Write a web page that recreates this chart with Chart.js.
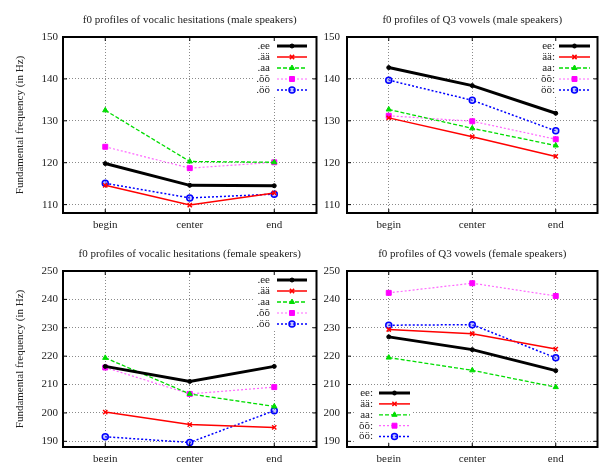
<!DOCTYPE html>
<html lang="et">
<head>
    <meta charset="UTF-8">
    <title>f0 profiles</title>
    <script src="https://cdn.jsdelivr.net/npm/chart.js"></script>
    <style>
        body {
            margin: 0;
            background: #fff;
        }
        .panel {
            position: absolute;
        }
    </style>
</head>
<body>
<div class="panel" style="left:0;top:0;width:322px;height:231px"><canvas id="maleHes"></canvas></div>
<div class="panel" style="left:322px;top:0;width:281px;height:231px"><canvas id="maleQ3"></canvas></div>
<div class="panel" style="left:0;top:231px;width:322px;height:231px"><canvas id="femaleHes"></canvas></div>
<div class="panel" style="left:322px;top:231px;width:281px;height:231px"><canvas id="femaleQ3"></canvas></div>

<script>
    // categories and labels
    const positions = ['begin', 'center', 'end'];
    const hesLabels = ['.ee', '.ää', '.aa', '.õõ', '.öö'];
    const q3Labels = ['ee:', 'ää:', 'aa:', 'õõ:', 'öö:'];
    const maleTicks = [110, 120, 130, 140, 150];
    const femaleTicks = [190, 200, 210, 220, 230, 240, 250];

    // male speakers, vocalic hesitations
    const maleHesEe = [119.8, 114.6, 114.5];
    const maleHesAe = [114.6, 109.9, 112.8];
    const maleHesAa = [132.5, 120.3, 120.1];
    const maleHesOt = [123.8, 118.7, 120.1];
    const maleHesOe = [115.1, 111.6, 112.5];

    // male speakers, Q3 vowels
    const maleQ3Ee = [142.7, 138.4, 131.8];
    const maleQ3Ae = [130.7, 126.2, 121.5];
    const maleQ3Aa = [132.7, 128.2, 124.1];
    const maleQ3Ot = [131.2, 129.9, 125.6];
    const maleQ3Oe = [139.7, 134.9, 127.6];

    // female speakers, vocalic hesitations
    const femaleHesEe = [216.4, 211.1, 216.4];
    const femaleHesAe = [200.3, 195.9, 194.9];
    const femaleHesAa = [219.4, 206.7, 202.3];
    const femaleHesOt = [216.0, 206.7, 209.1];
    const femaleHesOe = [191.6, 189.6, 200.8];

    // female speakers, Q3 vowels
    const femaleQ3Ee = [226.8, 222.3, 214.9];
    const femaleQ3Ae = [229.4, 227.9, 222.5];
    const femaleQ3Aa = [219.5, 215.0, 209.1];
    const femaleQ3Ot = [242.3, 245.7, 241.2];
    const femaleQ3Oe = [230.9, 231.1, 219.4];

    const FONT = 'Liberation Serif, Times New Roman, serif';
    const TEXT = '#222';

    // gnuplot-like line styles, one per vowel
    const styles = [
        { line: '#000000', fill: '#000000', width: 3, dash: [], point: 'circle', radius: 2, pw: 1 },
        { line: '#ff0000', fill: '#ff0000', width: 1.5, dash: [], point: 'crossRot', radius: 3, pw: 1.5 },
        { line: '#00dd00', fill: '#00dd00', width: 1.3, dash: [4, 2], point: 'triangle', radius: 3, pw: 1 },
        { line: '#ff66ff', fill: '#ff00ff', width: 1.2, dash: [2, 2], point: 'rect', radius: 3.5, pw: 1 },
        { line: '#0000ff', fill: 'rgba(90,90,255,0.35)', width: 1.5, dash: [2, 2], point: 'circle', radius: 3, pw: 1.5, pointLine: '#0000ff' }
    ];

    function makeDatasets(labels, series) {
        return series.map((data, i) => {
            const s = styles[i];
            return {
                label: labels[i],
                data: data,
                borderColor: s.line,
                borderWidth: s.width,
                borderDash: s.dash,
                pointStyle: s.point,
                pointRadius: s.radius,
                pointBorderWidth: s.pw,
                pointBackgroundColor: s.fill,
                pointBorderColor: s.pointLine || s.fill,
                tension: 0,
                clip: false
            };
        });
    }

    // small marker for the key
    function drawMarker(ctx, s, x, y) {
        ctx.save();
        ctx.setLineDash([]);
        ctx.fillStyle = s.fill;
        ctx.strokeStyle = s.pointLine || s.fill;
        ctx.lineWidth = s.pw;
        if (Chart.helpers && Chart.helpers.drawPoint) {
            Chart.helpers.drawPoint(ctx, { pointStyle: s.point, radius: s.radius, rotation: 0, borderWidth: s.pw }, x, y);
        } else {
            ctx.beginPath();
            ctx.arc(x, y, s.radius, 0, Math.PI * 2);
            ctx.fill();
            ctx.stroke();
        }
        ctx.restore();
    }

    // gnuplot style key: text on the left, sample line on the right
    function keyPlugin(cfg) {
        return {
            id: 'gpKey',
            afterDatasetsDraw(chart) {
                const ctx = chart.ctx;
                const sets = chart.data.datasets;
                ctx.save();
                ctx.font = '11px ' + FONT;
                let maxW = 0;
                sets.forEach(d => { maxW = Math.max(maxW, ctx.measureText(d.label).width); });
                const lastY = cfg.top + cfg.step * (sets.length - 1);
                ctx.fillStyle = '#fff';
                ctx.fillRect(cfg.textRight - maxW - 3, cfg.top - 6, cfg.lineEnd - cfg.textRight + maxW + 6, lastY - cfg.top + 12);
                sets.forEach((d, i) => {
                    const s = styles[i];
                    const y = cfg.top + cfg.step * i;
                    ctx.fillStyle = TEXT;
                    ctx.textAlign = 'right';
                    ctx.textBaseline = 'middle';
                    ctx.fillText(d.label, cfg.textRight, y);
                    ctx.strokeStyle = s.line;
                    ctx.lineWidth = s.width;
                    ctx.setLineDash(s.dash);
                    ctx.beginPath();
                    ctx.moveTo(cfg.lineStart, y);
                    ctx.lineTo(cfg.lineEnd, y);
                    ctx.stroke();
                    drawMarker(ctx, s, (cfg.lineStart + cfg.lineEnd) / 2, y);
                });
                ctx.restore();
            }
        };
    }

    // black frame with inward tick marks on all four sides
    const framePlugin = {
        id: 'frame',
        afterDraw(chart) {
            const { ctx, chartArea: a, scales } = chart;
            ctx.save();
            ctx.strokeStyle = '#000';
            ctx.setLineDash([]);
            ctx.lineWidth = 1;
            ctx.beginPath();
            scales.y.ticks.forEach(t => {
                const y = scales.y.getPixelForValue(t.value);
                ctx.moveTo(a.left, y); ctx.lineTo(a.left + 4, y);
                ctx.moveTo(a.right, y); ctx.lineTo(a.right - 4, y);
            });
            scales.x.ticks.forEach((t, i) => {
                const x = scales.x.getPixelForTick(i);
                ctx.moveTo(x, a.bottom); ctx.lineTo(x, a.bottom - 4);
                ctx.moveTo(x, a.top); ctx.lineTo(x, a.top + 4);
            });
            ctx.stroke();
            ctx.lineWidth = 2;
            ctx.strokeRect(a.left, a.top, a.right - a.left, a.bottom - a.top);
            ctx.restore();
        }
    };

    function makeChart(id, opts) {
        const ctx = document.getElementById(id).getContext('2d');
        return new Chart(ctx, {
            type: 'line',
            data: {
                labels: positions,
                datasets: makeDatasets(opts.labels, opts.series)
            },
            options: {
                responsive: true,
                maintainAspectRatio: false,
                animation: false,
                layout: {
                    padding: { top: opts.padTop, right: 2, left: 0, bottom: 0 }
                },
                plugins: {
                    legend: { display: false },
                    tooltip: { enabled: false },
                    title: {
                        display: true,
                        text: opts.title,
                        fullSize: false,
                        color: TEXT,
                        font: { family: FONT, size: 11, weight: 'normal' },
                        padding: { top: 14, bottom: 9.8 }
                    }
                },
                scales: {
                    x: {
                        type: 'category',
                        offset: true,
                        afterFit: s => { s.height = opts.xHeight; },
                        grid: { offset: false, color: '#8a8a8a', lineWidth: 1, drawTicks: false },
                        border: { display: false, dash: [1, 2] },
                        ticks: { color: TEXT, padding: 6, font: { family: FONT, size: 11 } }
                    },
                    y: {
                        min: opts.min,
                        max: opts.max,
                        afterFit: s => { s.width = opts.yWidth; },
                        afterBuildTicks: s => { s.ticks = opts.ticks.map(v => ({ value: v })); },
                        grid: { color: '#8a8a8a', lineWidth: 1, drawTicks: false },
                        border: { display: false, dash: [1, 2] },
                        ticks: { color: TEXT, padding: opts.yPad, font: { family: FONT, size: 11 } },
                        title: {
                            display: opts.yTitle,
                            text: 'Fundamental frequency (in Hz)',
                            color: TEXT,
                            font: { family: FONT, size: 11 },
                            padding: { top: 14, bottom: 0 }
                        }
                    }
                }
            },
            plugins: [keyPlugin(opts.key), framePlugin]
        });
    }

    makeChart('maleHes', {
        title: 'f0 profiles of vocalic hesitations (male speakers)',
        labels: hesLabels,
        series: [maleHesEe, maleHesAe, maleHesAa, maleHesOt, maleHesOe],
        min: 108, max: 150, ticks: maleTicks,
        padTop: 0, xHeight: 18, yWidth: 63, yPad: 5, yTitle: true,
        key: { textRight: 270, lineStart: 277, lineEnd: 307, top: 46, step: 11 }
    });

    makeChart('maleQ3', {
        title: 'f0 profiles of Q3 vowels (male speakers)',
        labels: q3Labels,
        series: [maleQ3Ee, maleQ3Ae, maleQ3Aa, maleQ3Ot, maleQ3Oe],
        min: 108, max: 150, ticks: maleTicks,
        padTop: 0, xHeight: 18, yWidth: 25, yPad: 7, yTitle: false,
        key: { textRight: 233, lineStart: 237, lineEnd: 268, top: 46, step: 11 }
    });

    makeChart('femaleHes', {
        title: 'f0 profiles of vocalic hesitations (female speakers)',
        labels: hesLabels,
        series: [femaleHesEe, femaleHesAe, femaleHesAa, femaleHesOt, femaleHesOe],
        min: 188, max: 250, ticks: femaleTicks,
        padTop: 3, xHeight: 15, yWidth: 63, yPad: 5, yTitle: true,
        key: { textRight: 270, lineStart: 277, lineEnd: 307, top: 49, step: 11 }
    });

    makeChart('femaleQ3', {
        title: 'f0 profiles of Q3 vowels (female speakers)',
        labels: q3Labels,
        series: [femaleQ3Ee, femaleQ3Ae, femaleQ3Aa, femaleQ3Ot, femaleQ3Oe],
        min: 188, max: 250, ticks: femaleTicks,
        padTop: 3, xHeight: 15, yWidth: 25, yPad: 7, yTitle: false,
        key: { textRight: 51, lineStart: 57, lineEnd: 88, top: 162, step: 10.9 }
    });
</script>
</body>
</html>
